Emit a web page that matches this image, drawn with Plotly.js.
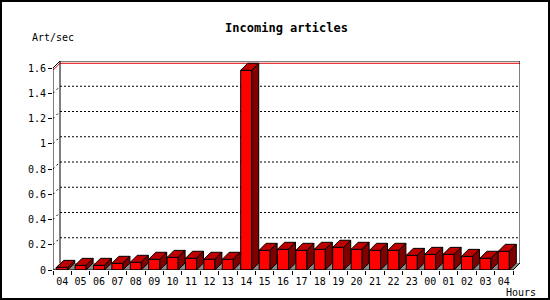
<!DOCTYPE html>
<html>
<head>
<meta charset="utf-8">
<script src="https://cdn.plot.ly/plotly-3.0.1.min.js"></script>
<style>
  html, body { margin: 0; padding: 0; background: #fff; }
  #chart { width: 550px; height: 300px; }
</style>
</head>
<body>
<div id="chart"></div>
<script>
// ---- data ----
const hours = ["04","05","06","07","08","09","10","11","12","13","14","15","16","17","18","19","20","21","22","23","00","01","02","03","04"];
const artPerSec = [0.021,0.037,0.037,0.053,0.061,0.085,0.10,0.093,0.085,0.085,1.582,0.156,0.164,0.156,0.164,0.18,0.164,0.156,0.156,0.116,0.124,0.124,0.108,0.093,0.148];
const yTickVals = [0,0.2,0.4,0.6,0.8,1,1.2,1.4,1.6];
const yTickText = ["0","0.2","0.4","0.6","0.8","1","1.2","1.4","1.6"];
const gridVals = [0.2,0.4,0.6,0.8,1,1.2,1.4];

// ---- geometry (layout) ----
const W = 550, H = 300;
const mL = 53, mR = 30, mT = 61, mB = 30;
const plotW = W - mL - mR, plotH = H - mT - mB;
const n = hours.length;
const yMaxFront = 1.6;
const depthPx = 7;
const pxPerX = (plotW - depthPx) / n;
const pxPerY = (plotH - depthPx) / yMaxFront;
const dx = depthPx / pxPerX, dy = depthPx / pxPerY;
const xr = [-0.5, n - 0.5 + dx];
const yr = [0, yMaxFront + dy];
const barW = 0.6;

const idx = hours.map((_, i) => i);

// top and side faces as closed polygons computed from the data
const topX = [], topY = [], sideX = [], sideY = [];
artPerSec.forEach((v, i) => {
  const l = i - barW / 2, r = i + barW / 2;
  topX.push(l, r, r + dx, l + dx, l, null);
  topY.push(v, v, v + dy, v + dy, v, null);
  sideX.push(r, r + dx, r + dx, r, r, null);
  sideY.push(0, dy, v + dy, v, 0, null);
});

const black = "#000";
const traces = [
  { type: "bar", x: idx, y: artPerSec, width: barW,
    marker: { color: "#ff0000", line: { color: black, width: 1 } },
    hoverinfo: "skip", showlegend: false },
  { type: "scatter", mode: "lines", x: topX, y: topY, fill: "toself",
    fillcolor: "#c00000", line: { color: black, width: 1 },
    hoverinfo: "skip", showlegend: false },
  { type: "scatter", mode: "lines", x: sideX, y: sideY, fill: "toself",
    fillcolor: "#800000", line: { color: black, width: 1 },
    hoverinfo: "skip", showlegend: false }
];

const x0 = -0.5, x1 = n - 0.5;
const shapes = [];
// floor
shapes.push({ type: "path", layer: "below", xref: "x", yref: "y",
  path: `M ${x0},0 L ${x1},0 L ${x1 + dx},${dy} L ${x0 + dx},${dy} Z`,
  fillcolor: "#8c8c8c", line: { width: 0 } });
// back-plane grid lines and wall marks
gridVals.forEach(v => {
  shapes.push({ type: "line", layer: "below", xref: "x", yref: "y",
    x0: x0 + dx, x1: x1 + dx, y0: v + dy, y1: v + dy,
    line: { color: black, width: 1, dash: "2px,2px" } });
  shapes.push({ type: "line", layer: "below", xref: "x", yref: "y",
    x0: x0, x1: x0 + dx, y0: v, y1: v + dy,
    line: { color: black, width: 1, dash: "2px,3px" } });
});
// max line (red)
const vMax = Math.max(...artPerSec);
shapes.push({ type: "path", layer: "below", xref: "x", yref: "y",
  path: `M ${x0},${vMax} L ${x0 + dx},${vMax + dy} L ${x1 + dx},${vMax + dy}`,
  line: { color: "#e00000", width: 1 } });
// back plane outline
shapes.push({ type: "path", layer: "below", xref: "x", yref: "y",
  path: `M ${x0 + dx},${dy} L ${x0 + dx},${yMaxFront + dy} L ${x1 + dx},${yMaxFront + dy} L ${x1 + dx},${dy}`,
  line: { color: black, width: 1 } });
// front axes + connecting edges
shapes.push({ type: "path", layer: "above", xref: "x", yref: "y",
  path: `M ${x0},${yMaxFront} L ${x0},0 L ${x1},0 L ${x1 + dx},${dy}`,
  line: { color: black, width: 1 } });
shapes.push({ type: "line", layer: "above", xref: "x", yref: "y",
  x0: x0, y0: yMaxFront, x1: x0 + dx, y1: yMaxFront + dy,
  line: { color: black, width: 1 } });
// image border
const px2x = p => (p - mL) / plotW;
const py2y = p => (H - mB - p) / plotH;
shapes.push({ type: "rect", layer: "above", xref: "paper", yref: "paper",
  x0: px2x(1), x1: px2x(549), y0: py2y(1), y1: py2y(299),
  line: { color: black, width: 2 }, fillcolor: "rgba(0,0,0,0)" });

const mono = "DejaVu Sans Mono, monospace";
const boundaries = [];
for (let i = 0; i <= n; i++) boundaries.push(i - 0.5);

const layout = {
  width: W, height: H,
  margin: { l: mL, r: mR, t: mT, b: mB, pad: 0 },
  paper_bgcolor: "#fff", plot_bgcolor: "#fff",
  showlegend: false,
  title: { text: "<b>Incoming articles</b>", font: { family: mono, size: 12, color: black },
    x: 0.5, xref: "paper", xanchor: "center", y: 1 - 27.5 / H, yref: "container", yanchor: "middle" },
  xaxis: {
    range: xr, type: "linear", fixedrange: true,
    tickmode: "array", tickvals: idx, ticktext: hours,
    ticks: "", showline: false, showgrid: false, zeroline: false,
    ticklabelstandoff: 4,
    tickfont: { family: mono, size: 10, color: black },
    minor: { tickmode: "array", tickvals: boundaries, ticks: "outside", ticklen: 4, tickcolor: black, tickwidth: 1, showgrid: false }
  },
  yaxis: {
    range: yr, fixedrange: true,
    tickmode: "array", tickvals: yTickVals, ticktext: yTickText,
    ticks: "outside", ticklen: 4, tickcolor: black, tickwidth: 1,
    showline: false, showgrid: false, zeroline: false,
    tickfont: { family: mono, size: 10, color: black }
  },
  shapes: shapes,
  annotations: [
    { text: "Art/sec", xref: "paper", yref: "paper", x: px2x(30), y: py2y(37),
      xanchor: "left", yanchor: "middle", showarrow: false,
      font: { family: mono, size: 10, color: black } },
    { text: "Hours", xref: "paper", yref: "paper", x: px2x(504), y: py2y(292),
      xanchor: "left", yanchor: "middle", showarrow: false,
      font: { family: mono, size: 10, color: black } }
  ]
};

Plotly.newPlot("chart", traces, layout, { displayModeBar: false, staticPlot: true });
</script>
</body>
</html>
